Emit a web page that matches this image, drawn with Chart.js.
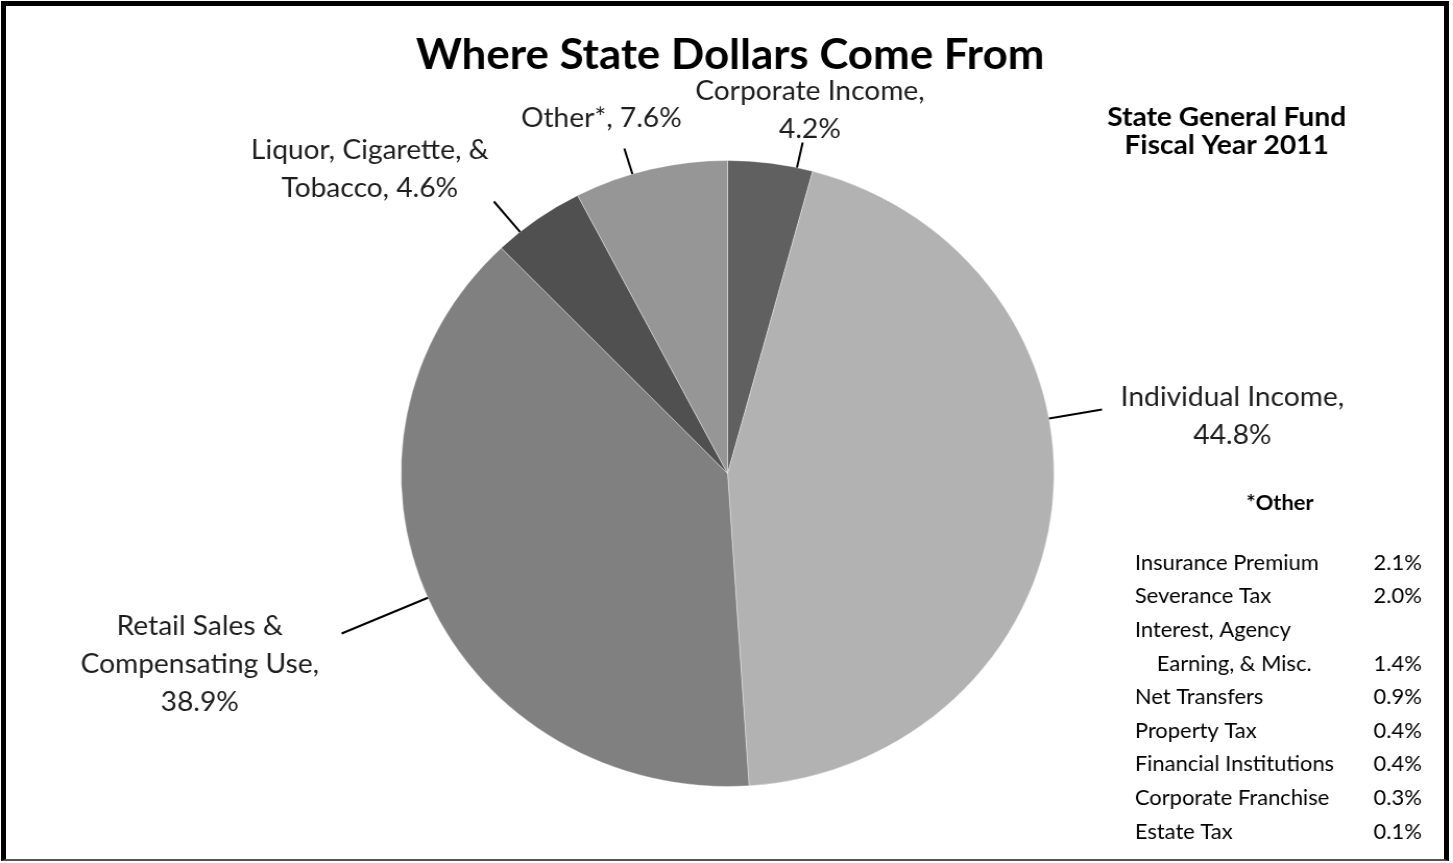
<!DOCTYPE html>
<html>
<head>
<meta charset="utf-8">
<title>Where State Dollars Come From</title>
<script src="https://cdn.jsdelivr.net/npm/chart.js@4.4.0/dist/chart.umd.min.js"></script>
<style>
    html, body { margin: 0; padding: 0; background: #fff; overflow: hidden; }
    #stage {
        position: absolute; left: 0; top: 0;
        width: 1393px; height: 863px;
        transform: scaleX(1.0431); transform-origin: 0 0;
    }
    #frame {
        position: absolute; left: 1px; top: 1px;
        width: 1448px; height: 860px; box-sizing: border-box;
        border: 5px solid #000; border-bottom: 2px solid #555;
        pointer-events: none;
    }
</style>
</head>
<body>
<div id="stage"><canvas id="pie" width="1393" height="863"></canvas></div>
<div id="frame"></div>
<script>
// Slices, clockwise from 12 o'clock
const categories = ['Corporate Income', 'Individual Income', 'Retail Sales & Compensating Use', 'Liquor, Cigarette, & Tobacco', 'Other*'];
const shares = [4.2, 44.8, 38.9, 4.6, 7.6];
const sliceColors = ['#606060', '#b2b2b2', '#808080', '#505050', '#969696'];

// Breakdown of "Other*"
const otherItems = ['Insurance Premium', 'Severance Tax', 'Interest, Agency Earning, & Misc.', 'Net Transfers',
    'Property Tax', 'Financial Institutions', 'Corporate Franchise', 'Estate Tax'];
const otherShares = [2.1, 2.0, 1.4, 0.9, 0.4, 0.4, 0.3, 0.1];

const chartTitle = 'Where State Dollars Come From';
const subTitle = ['State General Fund', 'Fiscal Year 2011'];
const otherTitle = '*Other';

// Label placement relative to the pie centre: words per line, text anchor, leader end
const labelLayout = [
    { wrap: [2], tx: 79, ty: -382, lx: 72, ly: -331 },
    { wrap: [2], tx: 484, ty: -76, lx: 359, ly: -64 },
    { wrap: [3, 2], tx: -506, ty: 153, lx: -370, ly: 160 },
    { wrap: [3], tx: -343, ty: -323, lx: -224, ly: -272 },
    { wrap: [], tx: -121, ty: -355, lx: -99, ly: -325 }
];
const LABEL_FONT = '27px Lato';
const LINE_H = 38;

function wrapWords(text, wrap) {
    const words = text.split(' ');
    const lines = [];
    let i = 0;
    wrap.forEach(n => { lines.push(words.slice(i, i + n).join(' ')); i += n; });
    if (i < words.length) lines.push(words.slice(i).join(' '));
    return lines;
}

const labelsPlugin = {
    id: 'sliceLabels',
    afterDraw(chart) {
        const ctx = chart.ctx;
        const arcs = chart.getDatasetMeta(0).data;
        ctx.save();

        // Slice labels with leader lines
        arcs.forEach((arc, i) => {
            const p = arc.getProps(['x', 'y', 'startAngle', 'endAngle', 'outerRadius'], true);
            const lay = labelLayout[i];
            const ex = p.x + lay.lx, ey = p.y + lay.ly;
            let a = Math.atan2(ey - p.y, ex - p.x);
            if (a < p.startAngle) a += Math.PI * 2;
            const pad = Math.min(0.03, (p.endAngle - p.startAngle) / 3);
            a = Math.max(p.startAngle + pad, Math.min(p.endAngle - pad, a));
            ctx.strokeStyle = '#000';
            ctx.lineWidth = 2;
            ctx.beginPath();
            ctx.moveTo(p.x + Math.cos(a) * p.outerRadius, p.y + Math.sin(a) * p.outerRadius);
            ctx.lineTo(ex, ey);
            ctx.stroke();

            const text = categories[i] + ', ' + shares[i].toFixed(1) + '%';
            const lines = wrapWords(text, lay.wrap);
            ctx.font = LABEL_FONT;
            ctx.fillStyle = '#1e1e1e';
            ctx.textAlign = 'center';
            ctx.textBaseline = 'middle';
            lines.forEach((ln, k) => ctx.fillText(ln, p.x + lay.tx, p.y + lay.ty + k * LINE_H));
        });

        // Titles
        ctx.fillStyle = '#000';
        ctx.textAlign = 'center';
        ctx.textBaseline = 'middle';
        ctx.font = 'bold 42px Lato';
        ctx.fillText(chartTitle, 700, 55);
        ctx.font = 'bold 27px Lato';
        subTitle.forEach((t, k) => ctx.fillText(t, 1176, 117 + k * 28));
        ctx.font = 'bold 21px Lato';
        ctx.fillText(otherTitle, 1227, 503);

        // "Other" breakdown table
        ctx.font = '21px Lato';
        let row = 0;
        otherItems.forEach((name, i) => {
            const parts = i === 2 ? wrapWords(name, [2]) : [name];
            parts.forEach((part, k) => {
                const y = 563 + row * 33.6;
                ctx.textAlign = 'left';
                ctx.fillText(part, k > 0 ? 1109 : 1088, y);
                if (k === parts.length - 1) {
                    ctx.textAlign = 'right';
                    ctx.fillText(otherShares[i].toFixed(1) + '%', 1363, y);
                }
                row++;
            });
        });
        ctx.restore();
    }
};

new Chart(document.getElementById('pie'), {
    type: 'pie',
    data: {
        labels: categories,
        datasets: [{
            data: shares,
            backgroundColor: sliceColors,
            borderColor: 'rgba(255,255,255,0.35)',
            borderWidth: 1
        }]
    },
    options: {
        responsive: false,
        animation: false,
        devicePixelRatio: 1,
        layout: { padding: { top: 160, bottom: 76, left: 384, right: 382 } },
        plugins: { legend: { display: false }, tooltip: { enabled: false } }
    },
    plugins: [labelsPlugin]
});
</script>
</body>
</html>
